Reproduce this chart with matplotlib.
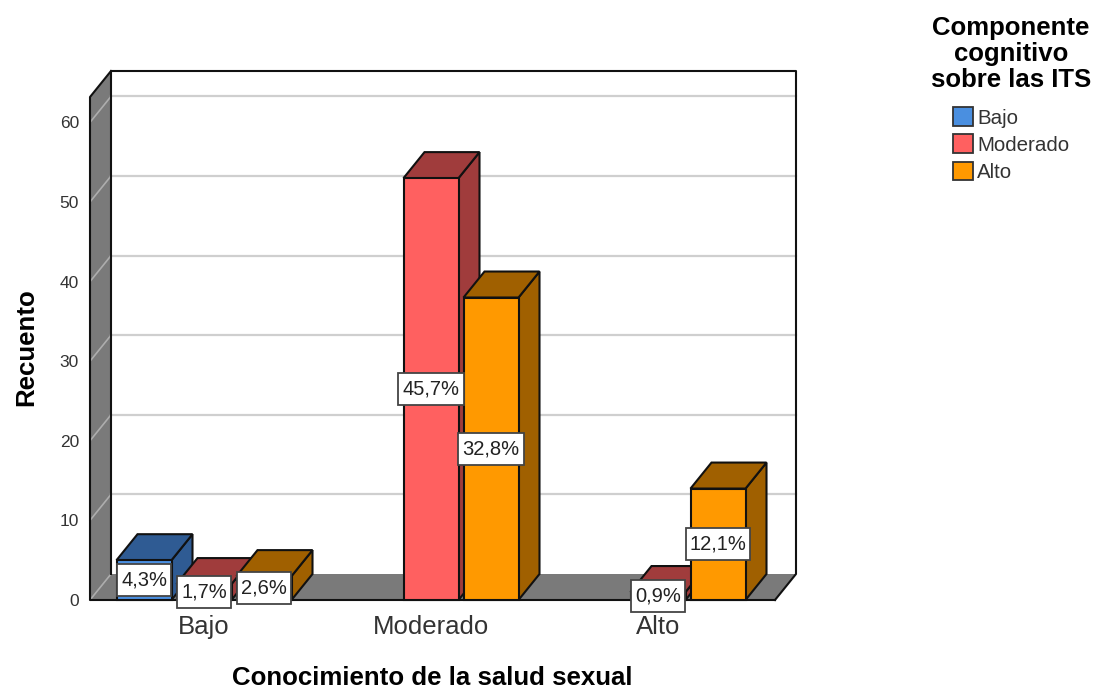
import matplotlib
matplotlib.use("Agg")
import matplotlib.pyplot as plt
from matplotlib.patches import Polygon, Rectangle, Patch
from matplotlib.path import Path

plt.rcParams['font.family'] = ['Liberation Sans', 'DejaVu Sans']

categorias = ["Bajo", "Moderado", "Alto"]
series = ["Bajo", "Moderado", "Alto"]
# recuentos por categoria de conocimiento
bajo = [5, 0, 0]
moderado = [2, 53, 1]
alto = [3, 38, 14]
pct_bajo = ["4,3%", "", ""]
pct_moderado = ["1,7%", "45,7%", "0,9%"]
pct_alto = ["2,6%", "32,8%", "12,1%"]
yticks = [0, 10, 20, 30, 40, 50, 60]
colores = ["#4a8fe0", "#ff6060", "#ff9900"]
oscuros = ["#2f5b93", "#a03c3c", "#a06000"]


def caja(x0, y0, w, h, mutation_size):
    # caja de etiqueta: mas alta que ancha en el relleno
    px = 0.2 * mutation_size
    py = 0.33 * mutation_size
    a, b = x0 - px, y0 - py
    c, d = x0 + w + px, y0 + h + py
    return Path([(a, b), (c, b), (c, d), (a, d), (a, b)], closed=True)


W, H = 1094, 688
fig = plt.figure(figsize=(W / 100, H / 100), dpi=100)
fig.patch.set_facecolor("white")
# frente del grafico en pixeles: x 90-775, y 97-600
ax = fig.add_axes([90 / W, 1 - 600 / H, 685 / W, 503 / H])
px_x = 227.0
px_y = 7.96
ax.set_xlim((90 - 204) / px_x, (775 - 204) / px_x)
ax.set_ylim(0, 503 / px_y)
ax.patch.set_visible(False)
for s in ax.spines.values():
    s.set_visible(False)

dx = 21 / px_x
dy = 26 / px_y
x0, x1 = ax.get_xlim()
top = ax.get_ylim()[1]
gris = "#7a7a7a"

# paredes y suelo
ax.add_patch(Rectangle((x0 + dx, dy), x1 - x0, top, fc="white", ec="none", zorder=1))
ax.add_patch(Polygon([(x0, 0), (x0 + dx, dy), (x0 + dx, top + dy), (x0, top)],
                     fc=gris, ec="none", zorder=1, clip_on=False))
ax.add_patch(Polygon([(x0, 0), (x1, 0), (x1 + dx, dy), (x0 + dx, dy)],
                     fc=gris, ec="none", zorder=1, clip_on=False))
for v in yticks:
    if v > 0:
        ax.plot([x0 + dx, x1 + dx], [v + dy, v + dy], color="#cfcfcf", lw=1.6,
                zorder=2, clip_on=False)
    ax.plot([x0, x0 + dx], [v, v + dy], color="#adadad", lw=1.2, zorder=2, clip_on=False)
neg = "#111111"
ax.plot([x0 + dx, x0 + dx, x1 + dx, x1 + dx, x1], [dy, top + dy, top + dy, dy, 0],
        color=neg, lw=1.5, zorder=3, clip_on=False)
ax.plot([x0 + dx, x0, x0, x1], [top + dy, top, 0, 0], color=neg, lw=1.5, zorder=3, clip_on=False)

# barras
ancho = 55 / px_x
paso = 60 / px_x
valores = [bajo, moderado, alto]
etiquetas = [pct_bajo, pct_moderado, pct_alto]
for c in range(len(categorias)):
    for i in range(len(series)):
        v = valores[i][c]
        if v == 0:
            continue
        izq = c + (i - 1) * paso - ancho / 2
        der = izq + ancho
        z = 4 + c + i * 0.1
        ax.add_patch(Polygon([(der, 0), (der + dx, dy), (der + dx, v + dy), (der, v)],
                             fc=oscuros[i], ec=neg, lw=1.5, zorder=z, clip_on=False))
        ax.add_patch(Polygon([(izq, v), (der, v), (der + dx, v + dy), (izq + dx, v + dy)],
                             fc=oscuros[i], ec=neg, lw=1.5, zorder=z, clip_on=False))
        ax.add_patch(Rectangle((izq, 0), ancho, v, fc=colores[i], ec=neg, lw=1.5,
                               zorder=z, clip_on=False))
for c in range(len(categorias)):
    for i in range(len(series)):
        if valores[i][c] == 0:
            continue
        ax.text(c + (i - 1) * paso, valores[i][c] / 2, etiquetas[i][c], ha="center", va="center",
                fontsize=14.5, color="#222222", zorder=20, clip_on=False,
                bbox=dict(boxstyle=caja, fc="white", ec="#444444", lw=1.3))

ax.set_xticks(range(len(categorias)), categorias)
ax.set_yticks(yticks)
ax.tick_params(axis="x", length=0, pad=10.5, labelsize=18.5, labelcolor="#333333")
ax.tick_params(axis="y", length=0, pad=8, labelsize=12.5, labelcolor="#333333")
ax.set_xlabel("Conocimiento de la salud sexual", fontsize=18.6, fontweight="bold")
ax.set_ylabel("Recuento", fontsize=18.6, fontweight="bold")
ax.xaxis.set_label_coords(0.5, -0.131)
ax.yaxis.set_label_coords(-0.076, 0.503)

handles = [Patch(fc=colores[i], ec="#333333", lw=1.3, label=series[i]) for i in range(len(series))]
leg = fig.legend(handles=handles, title="Componente\ncognitivo\nsobre las ITS",
                 loc="upper center", bbox_to_anchor=(1011 / W, 1 - 16 / H), frameon=False,
                 fontsize=14.8, labelcolor="#333333", handlelength=1.0, handleheight=1.0,
                 handletextpad=0.2, labelspacing=0.33, borderpad=0, borderaxespad=0,
                 title_fontproperties={"size": 18.5, "weight": "bold"})
leg.get_title().set_linespacing(1.11)
leg.get_title().set_multialignment("center")
leg._legend_box.sep = 11

fig.savefig("out.png", dpi=100)
